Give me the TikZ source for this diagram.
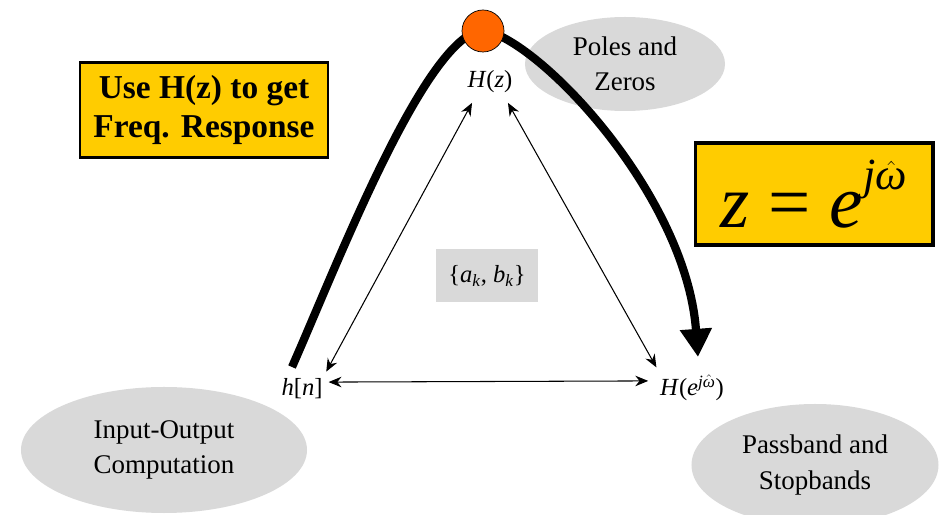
\documentclass[tikz,border=0pt]{standalone}
\usepackage{fontspec}
\setmainfont{Liberation Serif}
\usetikzlibrary{arrows.meta,shapes.geometric}
\definecolor{boxyellow}{HTML}{FFCC00}
\definecolor{blobgray}{HTML}{D9D9D9}
\definecolor{dotorange}{HTML}{FF6600}
\newcommand{\omhat}{\ensuremath{\hat{\mbox{\itshape ω}}}}
\begin{document}
\begin{tikzpicture}[
    x=0.03cm, y=-0.03cm,
    blob/.style={ellipse, fill=blobgray, inner sep=0pt},
    blobtext/.style={align=center, inner sep=0pt, font=\fontsize{23}{30}\selectfont},
    notebox/.style={draw=black, fill=boxyellow, inner sep=0pt},
    sym/.style={inner sep=0pt, anchor=base, font=\fontsize{21}{25}\selectfont},
    thinlink/.style={{Stealth[length=11pt,width=9pt]}-{Stealth[length=11pt,width=9pt]}, line width=0.9pt},
    patharc/.style={line width=7pt, -{Triangle[length=24pt,width=26pt]}}]
    \useasboundingbox (0,0) rectangle (939,515);

    % Grey ellipses behind everything.
    \node[blob, minimum width=6cm, minimum height=2.82cm] (poles) at (625,64) {};
    \node[blobtext] at (poles) {Poles and\\Zeros};
    \node[blob, minimum width=8.58cm, minimum height=3.78cm] (iocomp) at (164,450) {};
    \node[blobtext] at (iocomp) {Input-Output\\Computation};
    \node[blob, minimum width=7.41cm, minimum height=3.66cm] (bands) at (815,465) {};
    \node[blobtext] at (bands) {Passband and\\Stopbands};

    % Yellow notes.
    \node[notebox, line width=2.5pt, minimum width=7.44cm, minimum height=2.85cm,
        align=center, font=\fontsize{28.5}{34}\selectfont\bfseries] (usenote) at (204,110)
        {Use H(z) to get\\Freq. Response};
    \node[notebox, line width=3.4pt, minimum width=7.11cm, minimum height=3.06cm,
        font=\fontsize{64}{70}\selectfont] (subst) at (814,194)
        {\textit{z}\ =\ \textit{e}\raisebox{0.5em}{\fontsize{38}{38}\selectfont\itshape j\omhat}};
    \node[fill=blobgray, inner sep=0pt, minimum width=3.06cm, minimum height=1.59cm,
        font=\fontsize{21}{25}\selectfont] (coef) at (487,276)
        {\{\textit{a}\textsubscript{\textit{k}}, \textit{b}\textsubscript{\textit{k}}\}};

    % The three representations.
    \node[sym] (Hz) at (490,88) {\textit{H}(\textit{z})};
    \node[sym] (hn) at (302,396) {\textit{h}[\textit{n}]};
    \node[sym] (Hw) at (692,396) {\textit{H}(\textit{e}\textsuperscript{\textit{j}\omhat})};

    \draw[thinlink] ([xshift=3pt,yshift=6pt]hn.north east) -- ([xshift=4pt,yshift=-8pt]Hz.south west);
    \draw[thinlink] ([xshift=-4pt,yshift=-8pt]Hz.south east) -- ([xshift=-3pt,yshift=6pt]Hw.north west);
    \draw[thinlink] ([xshift=5pt,yshift=6pt]hn.east) -- ([xshift=-10pt,yshift=6pt]Hw.west);

    % Thick path over the top, through the dot.
    \coordinate (arcstart) at (292,367);
    \coordinate (arcend) at (698,357);
    \coordinate (arctop) at (483,30);
    \draw[patharc] (arcstart) .. controls (335,270) and (425,35) .. (arctop)
        .. controls (540,40) and (686,195) .. (arcend);
    \node[circle, draw=black, line width=0.6pt, fill=dotorange, minimum size=1.26cm,
        inner sep=0pt] (dot) at (483,31) {};
\end{tikzpicture}
\end{document}
